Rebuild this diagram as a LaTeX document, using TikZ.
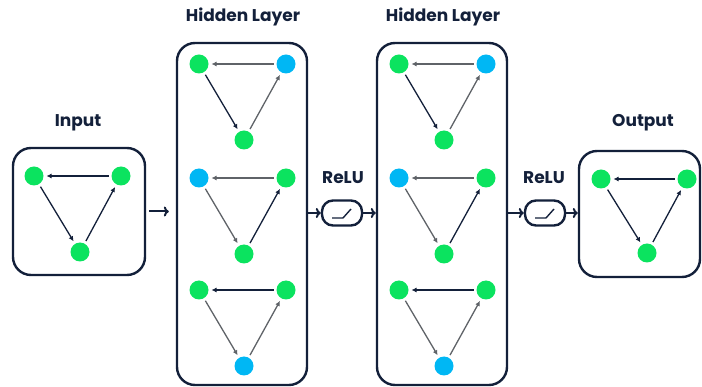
\documentclass[tikz,border=0pt]{standalone}
\usepackage{fontspec}
\setmainfont{Poppins}
\usepackage{tikz}
\usetikzlibrary{arrows.meta,calc,positioning}
\definecolor{ink}{HTML}{13203A}
\definecolor{gry}{HTML}{5F6368}
\definecolor{grn}{HTML}{0BE35F}
\definecolor{blu}{HTML}{00B7F4}
\tikzset{
  neuron/.style={circle,minimum size=19pt,inner sep=0pt,outer sep=3pt},
  gn/.style={neuron,fill=grn},
  bn/.style={neuron,fill=blu},
  layerbox/.style={draw=ink,line width=2.4pt,rounded corners=18pt,inner sep=0pt},
  relubox/.style={draw=ink,line width=2.4pt,rounded corners=11pt,minimum width=40pt,minimum height=25pt,inner sep=0pt},
  title/.style={font=\bfseries\fontsize{17}{19}\selectfont,text=ink},
  syn/.style={-{Latex[length=5pt,width=5pt]},line width=1.3pt,draw=ink},
  wsyn/.style={syn,draw=gry},
  flow/.style={-{To[length=5pt,width=10pt]},line width=2pt,draw=ink},
}

\begin{document}
\begin{tikzpicture}[x=1pt,y=-1pt]
\useasboundingbox (0,0) rectangle (702,387);

% boxes
\node[layerbox,minimum width=132pt,minimum height=127pt] (inp) at (79,211.5) {};
\node[layerbox,minimum width=130pt,minimum height=342pt] (hid1) at (242,214) {};
\node[layerbox,minimum width=130pt,minimum height=342pt] (hid2) at (442,214) {};
\node[layerbox,minimum width=121pt,minimum height=126pt] (out) at (639.5,214) {};
\node[relubox] (r1) at (342,213) {};
\node[relubox] (r2) at (545,213) {};

\node[title] (tin) at (78,123) {Input};
\node[title] (th1) at (243,17) {Hidden Layer};
\node[title] (th2) at (443,17) {Hidden Layer};
\node[title] (tout) at (643,123) {Output};
\node[title] (tr1) at (343,178) {ReLU};
\node[title] (tr2) at (544,178) {ReLU};

% input and output
\node[gn] (in-l) at (34,176) {};
\node[gn] (in-r) at (121,176) {};
\node[gn] (in-b) at (80,252) {};
\draw[syn] (in-r) -- (in-l);
\draw[syn] (in-l) -- (in-b);
\draw[syn] (in-b) -- (in-r);

\node[gn] (out-l) at (601,179) {};
\node[gn] (out-r) at (687,179) {};
\node[gn] (out-b) at (647,253) {};
\draw[syn] (out-r) -- (out-l);
\draw[syn] (out-l) -- (out-b);
\draw[syn] (out-b) -- (out-r);

% hidden layers
\foreach \l/\dx in {1/0,2/200}{
  \node[gn] (h\l-1l) at (199+\dx,64) {};
  \node[bn] (h\l-1r) at (286+\dx,64) {};
  \node[gn] (h\l-1b) at (244+\dx,140) {};
  \node[bn] (h\l-2l) at (199+\dx,178) {};
  \node[gn] (h\l-2r) at (286+\dx,178) {};
  \node[gn] (h\l-2b) at (244+\dx,254) {};
  \node[gn] (h\l-3l) at (199+\dx,290) {};
  \node[gn] (h\l-3r) at (286+\dx,290) {};
  \node[bn] (h\l-3b) at (244+\dx,366) {};
  \draw[wsyn] (h\l-1r) -- (h\l-1l);
  \draw[syn] (h\l-1l) -- (h\l-1b);
  \draw[wsyn] (h\l-1b) -- (h\l-1r);
  \draw[wsyn] (h\l-2r) -- (h\l-2l);
  \draw[wsyn] (h\l-2l) -- (h\l-2b);
  \draw[syn] (h\l-2b) -- (h\l-2r);
  \draw[syn] (h\l-3r) -- (h\l-3l);
  \draw[wsyn] (h\l-3l) -- (h\l-3b);
  \draw[wsyn] (h\l-3b) -- (h\l-3r);
}

% relu curves
\foreach \r in {r1,r2}
  \draw[ink,line width=1.4pt] ($(\r)+(-10,5)$) -- ($(\r)+(1,5)$) -- ($(\r)+(9,-4)$);

% flow
\draw[flow,shorten <=3pt,shorten >=7pt] (inp.east) -- (inp.east -| hid1.west);
\draw[flow] (hid1.east |- r1) -- (r1.west);
\draw[flow] (r1.east) -- (r1 -| hid2.west);
\draw[flow] (hid2.east |- r2) -- (r2.west);
\draw[flow] (r2.east) -- (r2 -| out.west);
\end{tikzpicture}
\end{document}
